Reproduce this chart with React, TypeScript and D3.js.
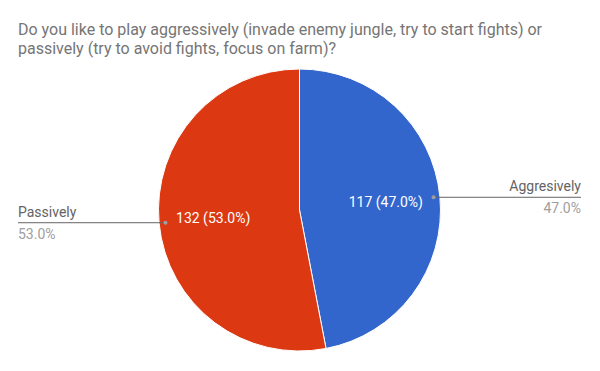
import { useRef, useEffect } from 'react';
import * as d3 from 'd3';

const categories = ['Aggresively', 'Passively'];
const counts = [117, 132];
const colors = ['#3366cc', '#dc3912'];
const titleLines = [
  'Do you like to play aggressively (invade enemy jungle, try to start fights) or',
  'passively (try to avoid fights, focus on farm)?',
];

export default function App() {
  const ref = useRef<SVGSVGElement>(null);
  const width = 600;
  const height = 371;
  const cx = 299.5;
  const cy = 210;
  const r = 141;

  useEffect(() => {
    const svg = d3.select(ref.current);
    svg.selectAll('*').remove();
    const font = 'Roboto, Arial, sans-serif';

    svg.append('g')
      .selectAll('text')
      .data(titleLines)
      .join('text')
      .attr('x', 18)
      .attr('y', (_d, i) => 35 + i * 19)
      .attr('fill', '#757575')
      .attr('font-family', font)
      .attr('font-size', 16)
      .text(d => d);

    const total = d3.sum(counts);
    const data = categories.map((c, i) => ({ name: c, value: counts[i], color: colors[i] }));
    const pie = d3.pie<any>().value(d => d.value).sort(null);
    const arcs = pie(data);
    const arc = d3.arc<any>().innerRadius(0).outerRadius(r);

    const g = svg.append('g').attr('transform', `translate(${cx},${cy})`);
    g.selectAll('path')
      .data(arcs)
      .join('path')
      .attr('d', arc)
      .attr('fill', d => d.data.color)
      .attr('stroke', '#fff')
      .attr('stroke-width', 1);

    const fmt = (v: number) => (v / total * 100).toFixed(1) + '%';

    arcs.forEach((a) => {
      const mid = (a.startAngle + a.endAngle) / 2;
      const sx = Math.sin(mid), sy = -Math.cos(mid);
      // inner label
      g.append('text')
        .attr('x', sx * r * 0.615)
        .attr('y', sy * r * 0.615 + 5)
        .attr('text-anchor', 'middle')
        .attr('fill', '#fff')
        .attr('font-family', font)
        .attr('font-size', 14)
        .text(`${a.data.value} (${fmt(a.data.value)})`);

      // leader
      const px = cx + sx * r * 0.955;
      const py = cy + sy * r * 0.955;
      const right = sx > 0;
      const ex = right ? 581 : 18;
      svg.append('line')
        .attr('x1', px).attr('y1', py)
        .attr('x2', ex).attr('y2', py)
        .attr('stroke', '#636363')
        .attr('stroke-width', 1);
      svg.append('circle')
        .attr('cx', px).attr('cy', py).attr('r', 2)
        .attr('fill', '#9e9e9e');
      svg.append('text')
        .attr('x', ex).attr('y', py - 6)
        .attr('text-anchor', right ? 'end' : 'start')
        .attr('fill', '#636363')
        .attr('font-family', font)
        .attr('font-size', 14)
        .text(a.data.name);
      svg.append('text')
        .attr('x', ex).attr('y', py + 16)
        .attr('text-anchor', right ? 'end' : 'start')
        .attr('fill', '#9e9e9e')
        .attr('font-family', font)
        .attr('font-size', 14)
        .text(fmt(a.data.value));
    });
  }, []);

  return (
    <svg ref={ref} width={width} height={height}
      style={{ position: 'absolute', left: 0, top: 0, background: '#fff' }} />
  );
}
